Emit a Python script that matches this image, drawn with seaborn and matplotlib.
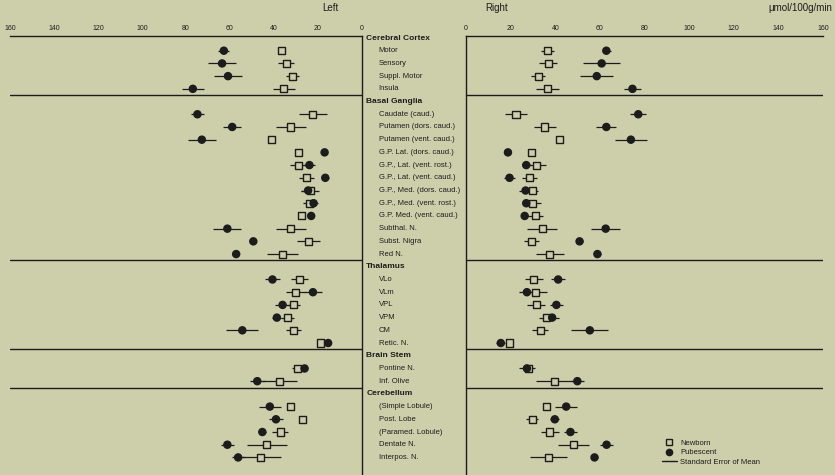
import numpy as np
import pandas as pd
import matplotlib
matplotlib.use("Agg")
import matplotlib.pyplot as plt
from matplotlib.lines import Line2D
import seaborn as sns

sns.set_theme(style="white")
plt.rcParams['font.family'] = ['Liberation Sans', 'DejaVu Sans']

nan = np.nan

# rows top to bottom; headers carry no values
regions = [
    "Cerebral Cortex", "Motor", "Sensory", "Suppl. Motor", "Insula",
    "Basal Ganglia", "Caudate (caud.)", "Putamen (dors. caud.)", "Putamen (vent. caud.)",
    "G.P. Lat. (dors. caud.)", "G.P., Lat. (vent. rost.)", "G.P., Lat. (vent. caud.)",
    "G.P., Med. (dors. caud.)", "G.P., Med. (vent. rost.)", "G.P. Med. (vent. caud.)",
    "Subthal. N.", "Subst. Nigra", "Red N.",
    "Thalamus", "VLo", "VLm", "VPL", "VPM", "CM", "Retic. N.",
    "Brain Stem", "Pontine N.", "Inf. Olive",
    "Cerebellum", "(Simple Lobule)", "Post. Lobe", "(Paramed. Lobule)", "Dentate N.", "Interpos. N.",
]
headers = ["Cerebral Cortex", "Basal Ganglia", "Thalamus", "Brain Stem", "Cerebellum"]

left_newborn = [nan, 36.4, 34.5, 31.5, 35.6,
                nan, 22.3, 32.3, 41.1, 28.9, 28.9, 25.1, 23.5, 23.9, 27.4, 32.3, 24.2, 36.1,
                nan, 28.4, 30.3, 31.2, 33.8, 31.2, 18.9,
                nan, 29.2, 37.6,
                nan, 32.6, 27.2, 37.2, 43.3, 46.0]
left_newborn_sem = [nan, 1.5, 3.8, 3.0, 5.0,
                    nan, 6.3, 6.9, 1.0, 1.5, 4.0, 3.5, 4.0, 3.0, 1.5, 6.9, 5.3, 7.0,
                    nan, 4.0, 4.2, 3.0, 3.0, 3.5, 1.0,
                    nan, 2.5, 8.0,
                    nan, 1.0, 1.0, 3.7, 9.0, 9.0]
left_pubescent = [nan, 62.8, 63.6, 60.9, 76.9,
                  nan, 74.8, 59.0, 72.8, 17.0, 23.9, 16.7, 24.5, 22.0, 23.1, 61.2, 49.4, 57.2,
                  nan, 40.7, 22.3, 36.1, 38.7, 54.4, 15.4,
                  nan, 26.1, 47.6,
                  nan, 41.9, 39.1, 45.3, 61.2, 56.3]
left_pubescent_sem = [nan, 2.5, 6.4, 6.4, 5.1,
                      nan, 3.0, 4.0, 6.3, 1.0, 2.5, 1.5, 3.0, 2.0, 1.0, 6.3, 1.0, 1.5,
                      nan, 3.4, 4.1, 3.5, 2.0, 7.3, 1.0,
                      nan, 1.0, 3.5,
                      nan, 5.0, 3.0, 1.5, 3.0, 3.0]

right_newborn = [nan, 36.6, 36.9, 32.3, 36.6,
                 nan, 22.4, 35.3, 41.7, 29.3, 31.8, 28.5, 29.6, 30.0, 31.1, 34.1, 29.3, 37.5,
                 nan, 30.3, 31.1, 31.5, 35.9, 33.3, 19.4,
                 nan, 28.0, 39.8,
                 nan, 36.0, 29.6, 37.5, 48.3, 36.8]
right_newborn_sem = [nan, 3.0, 4.1, 3.0, 5.2,
                     nan, 5.0, 5.0, 1.5, 1.0, 4.0, 3.5, 2.5, 3.5, 3.5, 6.9, 3.5, 6.2,
                     nan, 4.0, 5.0, 4.0, 3.0, 3.5, 1.0,
                     nan, 2.0, 8.3,
                     nan, 1.0, 2.5, 4.0, 7.0, 8.3]
right_pubescent = [nan, 62.9, 60.8, 58.6, 74.6,
                   nan, 77.2, 62.9, 73.9, 18.8, 27.0, 19.5, 26.7, 27.0, 26.3, 62.6, 50.9, 58.9,
                   nan, 41.3, 27.3, 40.5, 38.6, 55.5, 15.6,
                   nan, 27.3, 49.9,
                   nan, 44.9, 39.8, 46.8, 63.0, 57.6]
right_pubescent_sem = [nan, 2.0, 8.3, 7.3, 4.0,
                       nan, 3.5, 4.5, 7.1, 1.0, 2.0, 2.5, 3.0, 1.5, 1.5, 6.4, 1.5, 1.5,
                       nan, 3.0, 3.5, 3.0, 3.0, 8.3, 2.0,
                       nan, 3.5, 3.0,
                       nan, 4.8, 2.0, 3.0, 3.0, 1.5]

ticks = [0, 20, 40, 60, 80, 100, 120, 140, 160]

bg = "#cdcfab"
ink = "#1c1c1c"

rows = np.arange(len(regions))


def long_table(newborn, newborn_sem, pub, pub_sem):
    a = pd.DataFrame({"row": rows, "value": newborn, "sem": newborn_sem, "group": "Newborn"})
    b = pd.DataFrame({"row": rows, "value": pub, "sem": pub_sem, "group": "Pubescent"})
    return pd.concat([a, b]).dropna()


left_df = long_table(left_newborn, left_newborn_sem, left_pubescent, left_pubescent_sem)
right_df = long_table(right_newborn, right_newborn_sem, right_pubescent, right_pubescent_sem)

fig = plt.figure(figsize=(8.35, 4.75), dpi=100)
fig.patch.set_facecolor(bg)

W, H = 835, 475
top = 36
ax_h = (H - top) / H
axL = fig.add_axes([10 / W, 0, (362 - 10) / W, ax_h])
axM = fig.add_axes([362 / W, 0, (466 - 362) / W, ax_h])
axR = fig.add_axes([466 / W, 0, (823 - 466) / W, ax_h])

row_px = 12.71
y0 = 38.0
ylim = ((H - y0) / row_px, (top - y0) / row_px)

header_rows = [regions.index(h) for h in headers]

for ax, df, side in [(axL, left_df, "left"), (axR, right_df, "right")]:
    ax.set_facecolor(bg)
    ax.hlines(df["row"], df["value"] - df["sem"], df["value"] + df["sem"],
              color=ink, lw=0.9, zorder=2)
    sns.scatterplot(data=df, x="value", y="row", hue="group", style="group",
                    markers={"Newborn": "s", "Pubescent": "o"},
                    palette={"Newborn": bg, "Pubescent": ink},
                    edgecolor=ink, linewidth=1.0, s=26, legend=False, ax=ax, zorder=3)
    for r in header_rows[1:]:
        ax.axhline(r - 0.5, color=ink, lw=1.0)
    ax.set_ylim(*ylim)
    ax.set_xlabel("")
    ax.set_ylabel("")
    ax.set_yticks([])
    ax.set_xticks(ticks)
    ax.set_xticklabels([str(t) for t in ticks])
    ax.xaxis.tick_top()
    ax.tick_params(axis="x", length=0, pad=3, labelsize=5, colors=ink)
    for s in ax.spines.values():
        s.set_visible(False)
        s.set_color(ink)
        s.set_linewidth(1.0)
    ax.spines["top"].set_visible(True)
    if side == "left":
        ax.set_xlim(160, 0)
        ax.spines["right"].set_visible(True)
    else:
        ax.set_xlim(0, 160)
        ax.spines["left"].set_visible(True)

axM.set_facecolor(bg)
axM.set_xlim(0, 1)
axM.set_ylim(*ylim)
axM.axis("off")
for r, name in enumerate(regions):
    if name in headers:
        axM.text(0.04, r, name, ha="left", va="center", fontsize=6,
                 fontweight="bold", color=ink)
    else:
        axM.text(0.16, r, name, ha="left", va="center", fontsize=5.5, color=ink)

fig.text(330 / W, 1 - 8 / H, "Left", ha="center", va="center", fontsize=7, color=ink)
fig.text(497 / W, 1 - 8 / H, "Right", ha="center", va="center", fontsize=7, color=ink)
fig.text(832 / W, 1 - 8 / H, "\u03bcmol/100g/min", ha="right", va="center", fontsize=7, color=ink)

handles = [
    Line2D([], [], marker="s", ls="none", mfc=bg, mec=ink, mew=1.0, ms=5),
    Line2D([], [], marker="o", ls="none", mfc=ink, mec=ink, ms=4.5),
    Line2D([], [], color=ink, lw=1.0),
]
fig.legend(handles, ["Newborn", "Pubescent", "Standard Error of Mean"],
           loc="upper left", bbox_to_anchor=(658 / W, 1 - 436 / H),
           frameon=False, fontsize=5.5, handlelength=2.0, handletextpad=0.4,
           labelspacing=0.25, borderpad=0, labelcolor=ink)

fig.savefig("out.png", dpi=100, facecolor=bg)
